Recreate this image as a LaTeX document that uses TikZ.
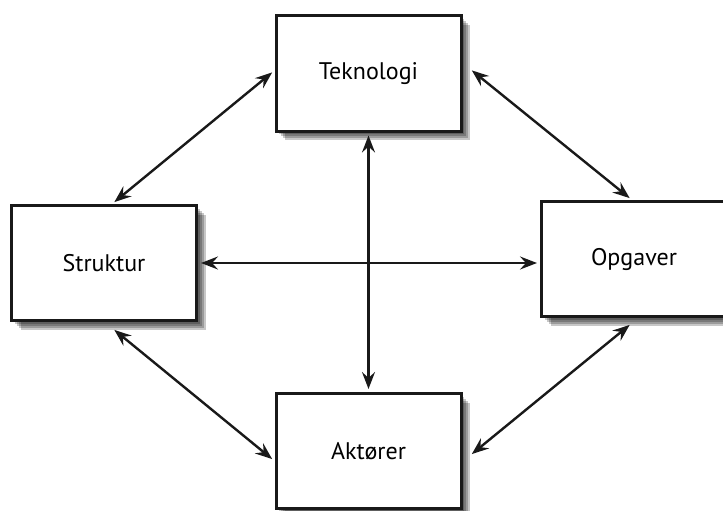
\documentclass[tikz,border=0pt]{standalone}
\usepackage{fontspec}
\setmainfont{PT Sans}
\usetikzlibrary{positioning, arrows.meta}

\begin{document}
\begin{tikzpicture}[x=1pt, y=-1pt, on grid, align=center,
    shade step/.style={preaction={fill=black, opacity=0.22, transform canvas={xshift=#1, yshift=-#1}}},
    box/.style={draw=black!90, line width=3pt, fill=white, minimum width=185pt, minimum height=115pt,
      font=\fontsize{24}{28}\selectfont,
      shade step=9pt, shade step=7pt, shade step=5pt, shade step=3pt},
    link/.style={{Stealth[length=17pt,width=13pt,inset=6pt]}-{Stealth[length=17pt,width=13pt,inset=6pt]},
      draw=black!90, line width=2.4pt, shorten <=3pt, shorten >=3pt}]
    \useasboundingbox (0,0) rectangle (723,511);
    \node[box] (tek) at (368.5,73.5) {Teknologi};
    \node[box] (str) [below left = 189.5pt and 264.5pt of tek] {Struktur};
    \node[box] (opg) [below right = 185.5pt and 265.5pt of tek] {Opgaver};
    \node[box] (akt) [below = 377.5pt of tek] {Aktører};
    \draw[link] ([yshift=3pt]tek.west) -- ([xshift=8pt]str.north);
    \draw[link] ([xshift=7pt,yshift=5pt]tek.east) -- ([xshift=-2pt]opg.north);
    \draw[link] ([xshift=-2pt,yshift=-5pt]opg.south) -- ([xshift=7pt,yshift=-5pt]akt.east);
    \draw[link] ([xshift=8pt,yshift=-6pt]str.south) -- ([yshift=-10pt]akt.west);
    \draw[link] (tek.south) -- (akt.north);
    \draw[link] (str.east) -- (str.east -| opg.west);
  \end{tikzpicture}
\end{document}
